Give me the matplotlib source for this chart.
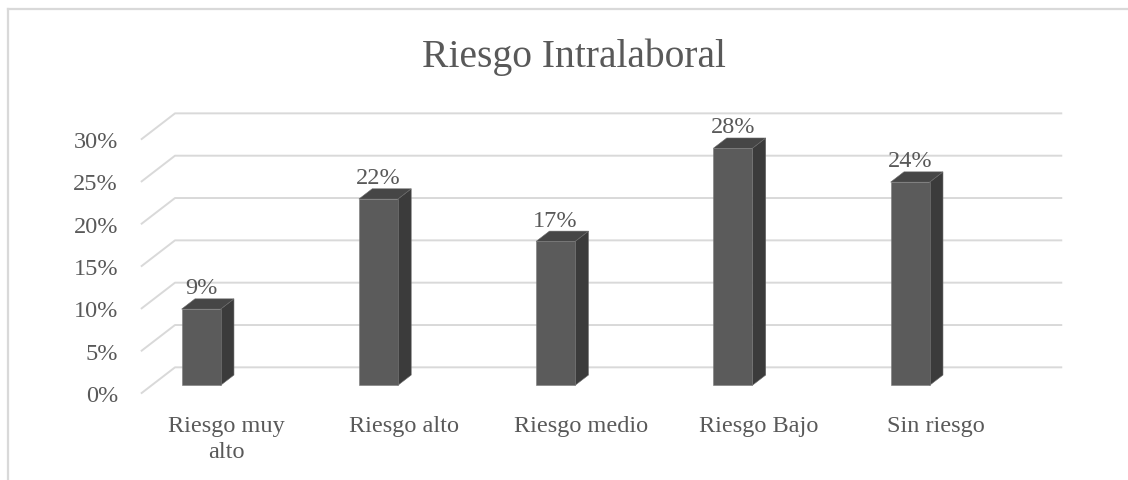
import matplotlib
matplotlib.use("Agg")
import matplotlib.pyplot as plt
from matplotlib.patches import Polygon
from matplotlib.lines import Line2D

categories = ["Riesgo muy\nalto", "Riesgo alto", "Riesgo medio", "Riesgo Bajo", "Sin riesgo"]
values = [9, 22, 17, 28, 24]
yticks = [0, 5, 10, 15, 20, 25, 30]
title = "Riesgo Intralaboral"

TXT = "#595959"
GRID = "#d9d9d9"
FRONT, SIDE, TOP = "#5b5b5b", "#3b3b3b", "#464646"
plt.rcParams["font.family"] = ["Liberation Serif", "DejaVu Serif"]

fig = plt.figure(figsize=(11.28, 4.81), dpi=100)
ax = fig.add_axes([0.1256, 0.1809, 0.7857, 0.528])
ax.set_xlim(0, len(values))
ax.set_ylim(0, 30)
for s in ax.spines.values():
    s.set_visible(False)

# oblique depth vector in data units
ddx, ddy = 0.188, 3.03

# walls: gridlines on back wall + diagonals on side wall
for t in yticks:
    ax.add_line(Line2D([0, ddx, len(values) + ddx], [t, t + ddy, t + ddy],
                       color=GRID, lw=1.4, clip_on=False, zorder=1))

# bars (set back to 0.3..0.7 of the depth)
bw, boff = 0.22, 0.169
f0, f1 = 0.3, 0.7
for i, v in enumerate(values):
    x0 = i + boff + f0 * ddx
    x1 = x0 + bw
    y0 = f0 * ddy
    ex, ey = (f1 - f0) * ddx, (f1 - f0) * ddy
    side = [(x1, y0), (x1 + ex, y0 + ey), (x1 + ex, y0 + ey + v), (x1, y0 + v)]
    top = [(x0, y0 + v), (x1, y0 + v), (x1 + ex, y0 + v + ey), (x0 + ex, y0 + v + ey)]
    front = [(x0, y0), (x1, y0), (x1, y0 + v), (x0, y0 + v)]
    ax.add_patch(Polygon(side, closed=True, fc=SIDE, ec="#6a6a6a", lw=0.4, clip_on=False, zorder=3))
    ax.add_patch(Polygon(top, closed=True, fc=TOP, ec="#6a6a6a", lw=0.4, clip_on=False, zorder=3))
    ax.add_patch(Polygon(front, closed=True, fc=FRONT, ec="#7a7a7a", lw=0.4, clip_on=False, zorder=4))
    ax.annotate(f"{v}%", xy=((x0 + x1) / 2, y0 + v + ey), xytext=(0, 4),
                textcoords="offset points", ha="center", va="baseline",
                fontsize=17.5, color=TXT, annotation_clip=False, zorder=5)

ax.set_yticks(yticks)
ax.set_yticklabels([f"{t}%" for t in yticks])
ax.set_xticks([i + 0.48 for i in range(len(values))])
ax.set_xticklabels(categories, multialignment="center", linespacing=1.3)
ax.tick_params(axis="y", length=0, pad=17, labelsize=17.5, labelcolor=TXT)
ax.tick_params(axis="x", length=0, pad=16, labelsize=17.5, labelcolor=TXT)

fig.text(0.509, 0.861, title, ha="center", va="baseline", fontsize=28.5, color=TXT)

# chart area border (top and left visible)
fig.add_artist(Line2D([0.0071, 1.0], [0.9792, 0.9792], color=GRID, lw=1.6, transform=fig.transFigure))
fig.add_artist(Line2D([0.0071, 0.0071], [0.0, 0.9792], color=GRID, lw=1.6, transform=fig.transFigure))

fig.savefig("out.png", dpi=100, facecolor="white")
